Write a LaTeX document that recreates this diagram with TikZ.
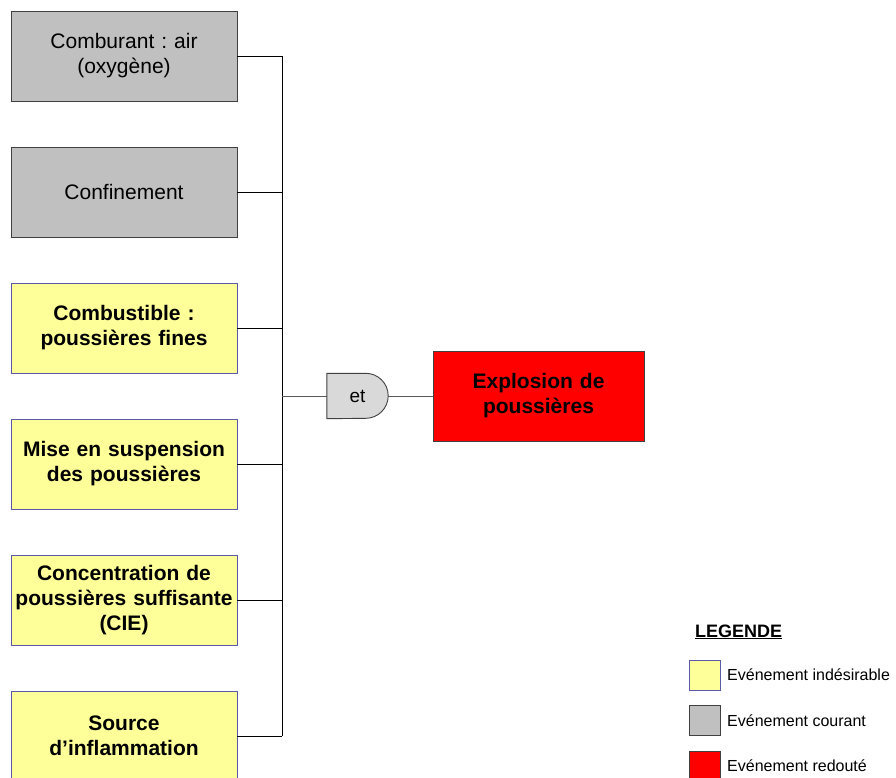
\documentclass[tikz,border=0pt]{standalone}
\usepackage{fontspec}
\setmainfont{Liberation Sans}
\usetikzlibrary{calc}
\frenchspacing
\definecolor{evgray}{HTML}{C0C0C0}
\definecolor{evyellow}{HTML}{FFFF99}
\definecolor{evred}{HTML}{FF0000}
\definecolor{gatefill}{HTML}{D9D9D9}
\definecolor{blueedge}{HTML}{5A5AA8}
\definecolor{darkedge}{HTML}{404040}
\tikzset{
  event/.style={minimum width=226, minimum height=90, inner sep=0pt,
    text width=222, align=center, line width=0.9pt,
    font=\fontsize{21}{25}\selectfont},
  courant/.style={event, fill=evgray, draw=darkedge},
  indesirable/.style={event, fill=evyellow, draw=blueedge, font=\fontsize{21}{25}\selectfont\bfseries},
  redoute/.style={event, minimum width=211, fill=evred, draw=darkedge, text width=205,
    font=\fontsize{21}{25}\selectfont\bfseries},
  wire/.style={line width=1pt, black},
  gwire/.style={line width=1pt, black!65},
  legbox/.style={minimum width=31, minimum height=30, inner sep=0pt, line width=0.9pt},
  legtext/.style={anchor=west, inner sep=0pt, font=\fontsize{16}{18}\selectfont},
}
\begin{document}
\begin{tikzpicture}[x=1pt, y=-1pt]
\useasboundingbox (0,0) rectangle (896,777);

% initiating events
\node[courant] (b1) at (124,56) {Comburant : air\\(oxygène)};
\node[courant] (b2) at (124,192) {Confinement};
\node[indesirable] (b3) at (124,328) {Combustible :\\poussières fines};
\node[indesirable] (b4) at (124,464) {Mise en suspension\\des poussières};
\node[indesirable] (b5) at (124,600) {Concentration de\\poussières suffisante\\(CIE)};
\node[indesirable] (b6) at (124,736) {Source\\d’inflammation};

% collecting bus
\coordinate (bus) at (282,396);
\foreach \b in {b1,b2,b3,b4,b5,b6}
  \draw[wire] (\b.east) -- (\b.east -| bus);
\draw[wire] (b1.east -| bus) -- (b6.east -| bus);

% AND gate: flat back, round front (y axis points down here)
\node[minimum width=61, minimum height=45, inner sep=0pt] (gate) at (357.5,396) {};
\draw[line width=0.9pt, draw=darkedge, fill=gatefill] (gate.north west) -- ($(gate.north east)+(-22.5,0)$)
  arc[start angle=-90, end angle=90, radius=22.5] -- (gate.south west) -- cycle;
\node[font=\fontsize{19}{22}\selectfont] (gatelbl) at (gate.center) {et};

% top event
\node[redoute] (top) at (538.5,396) {Explosion de\\poussières};

\draw[gwire] (bus) -- (gate.west);
\draw[gwire] (gate.east) -- (top.west);

% legend
\node[anchor=base west, inner sep=0pt, font=\fontsize{18}{20}\selectfont\bfseries] (legt) at (695,637) {\underline{LEGENDE}};
\node[legbox, fill=evyellow, draw=blueedge] (l1) at (704.5,675) {};
\node[legbox, fill=evgray, draw=darkedge] (l2) at (704.5,720.5) {};
\node[legbox, fill=evred, draw=darkedge] (l3) at (704.5,766) {};
\node[legtext] (t1) at (727,675) {Evénement indésirable};
\node[legtext] (t2) at (727,720.5) {Evénement courant};
\node[legtext] (t3) at (727,766) {Evénement redouté};
\end{tikzpicture}
\end{document}
